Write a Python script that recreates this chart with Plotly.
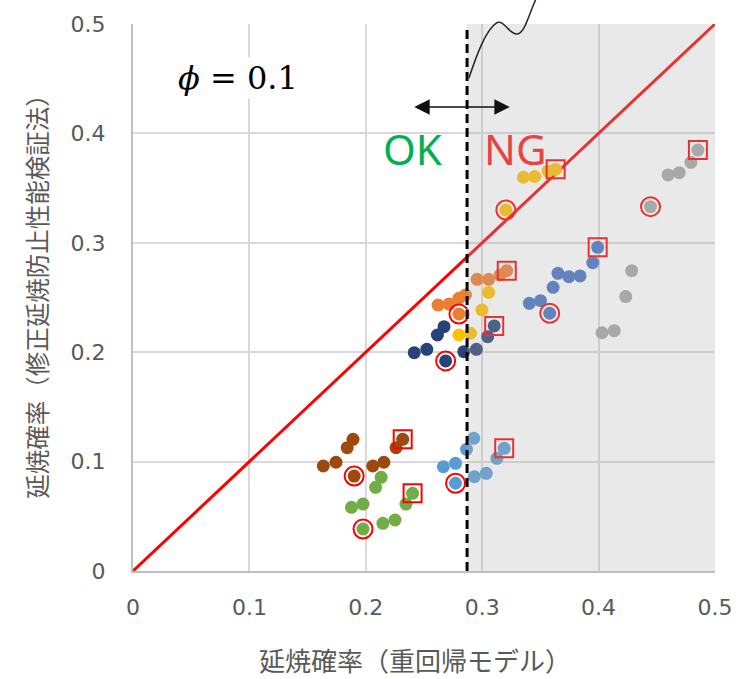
import plotly.graph_objects as go

# ---------------- data ----------------
colors = ["#4472C4", "#ED7D31", "#A5A5A5", "#FFC000", "#5B9BD5", "#70AD47", "#264478", "#9E480E"]

blue_x = [0.3405, 0.3501, 0.3609, 0.3651, 0.3580, 0.3745, 0.3841, 0.3950, 0.3992]
blue_y = [0.2447, 0.2471, 0.2593, 0.2721, 0.2356, 0.2690, 0.2697, 0.2818, 0.2959]

orange_x = [0.2621, 0.2715, 0.2800, 0.2856, 0.2800, 0.2956, 0.3055, 0.3154, 0.3211]
orange_y = [0.2431, 0.2440, 0.2493, 0.2523, 0.2349, 0.2666, 0.2666, 0.2706, 0.2745]

gray_x = [0.4029, 0.4134, 0.4233, 0.4284, 0.4446, 0.4597, 0.4693, 0.4793, 0.4853]
gray_y = [0.2178, 0.2197, 0.2508, 0.2745, 0.3330, 0.3620, 0.3641, 0.3736, 0.3848]

gold_x = [0.2800, 0.2899, 0.2998, 0.3055, 0.3203, 0.3354, 0.3452, 0.3566, 0.3631]
gold_y = [0.2157, 0.2173, 0.2386, 0.2546, 0.3300, 0.3599, 0.3606, 0.3656, 0.3672]

lblue_x = [0.2666, 0.2771, 0.2865, 0.2927, 0.2771, 0.2933, 0.3035, 0.3126, 0.3189]
lblue_y = [0.0953, 0.0984, 0.1112, 0.1213, 0.0802, 0.0862, 0.0893, 0.1030, 0.1121]

green_x = [0.1877, 0.1976, 0.2084, 0.2132, 0.1976, 0.2147, 0.2251, 0.2345, 0.2402]
green_y = [0.0582, 0.0612, 0.0765, 0.0856, 0.0384, 0.0436, 0.0466, 0.0612, 0.0710]

navy_x = [0.2416, 0.2524, 0.2615, 0.2672, 0.2686, 0.2842, 0.2950, 0.3047, 0.3103]
navy_y = [0.1996, 0.2026, 0.2157, 0.2233, 0.1920, 0.2005, 0.2026, 0.2142, 0.2240]

brown_x = [0.1635, 0.1744, 0.1840, 0.1890, 0.1900, 0.2060, 0.2155, 0.2260, 0.2317]
brown_y = [0.0960, 0.0994, 0.1127, 0.1204, 0.0868, 0.0960, 0.0994, 0.1127, 0.1204]

series_x = [blue_x, orange_x, gray_x, gold_x, lblue_x, green_x, navy_x, brown_x]
series_y = [blue_y, orange_y, gray_y, gold_y, lblue_y, green_y, navy_y, brown_y]

circle_index = 4   # point marked with a red circle in each series
square_index = 8   # point marked with a red square in each series

threshold = 0.287  # OK / NG boundary
phi_text = "<i>ϕ</i> = 0.1"
tick_vals = [0, 0.1, 0.2, 0.3, 0.4, 0.5]
tick_text = ["0", "0.1", "0.2", "0.3", "0.4", "0.5"]
x_title = "延焼確率（重回帰モデル）"
y_title = "延焼確率（修正延焼防止性能検証法）"

# ---------------- figure ----------------
W, H = 745, 679
L, R, T, B = 133, 25, 24, 108
PW, PH = W - L - R, H - T - B


def px(xp):
    return (xp - L) / PW


def py(yp):
    return (H - B - yp) / PH


fig = go.Figure()

# y = x line
fig.add_trace(go.Scatter(x=[0, 0.5], y=[0, 0.5], mode="lines",
                         line=dict(color="#FF0000", width=3), hoverinfo="skip"))

for sx, sy, c in zip(series_x, series_y, colors):
    fig.add_trace(go.Scatter(x=sx, y=sy, mode="markers",
                             marker=dict(color=c, size=13, line=dict(width=0))))

fig.add_trace(go.Scatter(
    x=[s[circle_index] for s in series_x], y=[s[circle_index] for s in series_y],
    mode="markers", marker=dict(symbol="circle-open", size=19, color="#FF0000", line=dict(width=2))))
fig.add_trace(go.Scatter(
    x=[s[square_index] for s in series_x], y=[s[square_index] for s in series_y],
    mode="markers", marker=dict(symbol="square-open", size=18, color="#FF0000", line=dict(width=2))))

# NG shaded region (semi transparent, above data)
fig.add_shape(type="rect", xref="x", yref="y", x0=threshold, x1=0.5, y0=0, y1=0.5,
              fillcolor="rgba(175,175,175,0.28)", line=dict(width=0), layer="above")
# threshold dashed line
fig.add_shape(type="line", xref="x", yref="y", x0=threshold, x1=threshold, y0=0, y1=0.497,
              line=dict(color="black", width=3, dash="9px,5px"), layer="above")

# wavy leader line at top
p = [(471.7, 78.3), (478, 60), (488, 30), (500, 22.7),
     (508, 20), (512, 34), (520, 34),
     (528, 34), (532, 15), (539, 0)]
pp = [(px(a), py(b)) for a, b in p]
path = "M {:.4f},{:.4f} C {:.4f},{:.4f} {:.4f},{:.4f} {:.4f},{:.4f} C {:.4f},{:.4f} {:.4f},{:.4f} {:.4f},{:.4f} C {:.4f},{:.4f} {:.4f},{:.4f} {:.4f},{:.4f}".format(
    *[v for q in pp for v in q])
fig.add_shape(type="path", xref="paper", yref="paper", path=path,
              line=dict(color="#262626", width=1.5), layer="above")

# double-headed arrow
fig.add_annotation(xref="paper", yref="paper", x=px(513), y=py(107),
                   ax=-97, ay=0, axref="pixel", ayref="pixel",
                   text="", showarrow=True, arrowhead=2, arrowside="end+start",
                   arrowsize=2.2, arrowwidth=1.4, arrowcolor="#111111")

# texts
fig.add_annotation(xref="paper", yref="paper", x=px(239), y=py(78), text=phi_text,
                   xanchor="center", yanchor="middle",
                   showarrow=False, bgcolor="white",
                   font=dict(family="DejaVu Serif", size=32, color="black"))
fig.add_annotation(xref="paper", yref="paper", x=px(415), y=py(148), text="OK",
                   xanchor="center", yanchor="middle",
                   showarrow=False, font=dict(family="Noto Sans", size=42, color="#00B050"))
fig.add_annotation(xref="paper", yref="paper", x=px(519), y=py(148), text="NG",
                   xanchor="center", yanchor="middle",
                   showarrow=False, font=dict(family="Noto Sans", size=42, color="#E84343"))
fig.add_annotation(xref="paper", yref="paper", x=px(417), y=py(659), text=x_title,
                   xanchor="center", yanchor="middle",
                   showarrow=False, font=dict(family="Noto Sans CJK JP", size=26, color="#595959"))
fig.add_annotation(xref="paper", yref="paper", x=px(35), y=py(290), text=y_title, textangle=-90,
                   xanchor="center", yanchor="middle",
                   showarrow=False, font=dict(family="Noto Sans CJK JP", size=24.5, color="#595959"))

axis_common = dict(range=[0, 0.5], tickvals=tick_vals, ticktext=tick_text,
                   showgrid=True, gridcolor="#D9D9D9", gridwidth=2,
                   zeroline=False, showline=True, linecolor="#BFBFBF", linewidth=2,
                   ticks="", tickfont=dict(family="DejaVu Sans", size=22, color="#595959"),
                   fixedrange=True)

fig.update_layout(
    width=W, height=H,
    margin=dict(l=L, r=R, t=T, b=B, pad=0),
    paper_bgcolor="white", plot_bgcolor="white",
    showlegend=False,
    xaxis=dict(**axis_common, ticklabelstandoff=16),
    yaxis=dict(**axis_common, ticklabelstandoff=21),
)

fig.write_html("out.html", config={"displayModeBar": False},
               post_script="document.body.style.margin='0px';")
